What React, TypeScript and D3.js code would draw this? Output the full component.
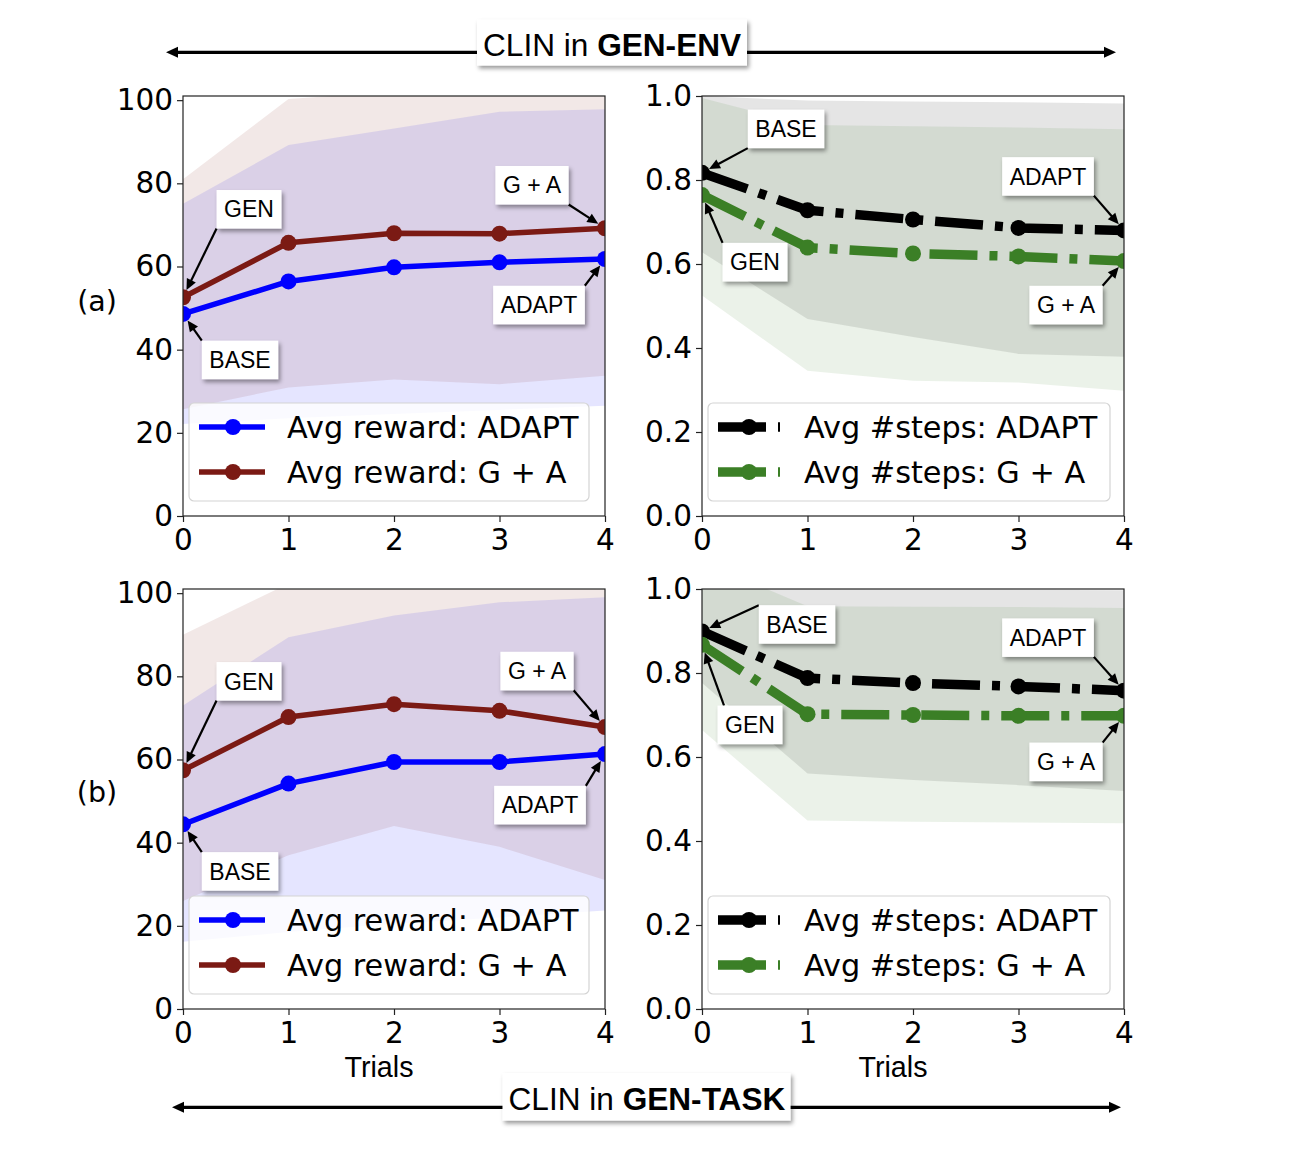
import { useRef, useEffect } from 'react';
import * as d3 from 'd3';

const WIDTH = 1316;
const HEIGHT = 1156;

const COLS = [{ x0: 183, x1: 605 }, { x0: 702, x1: 1124 }];
const ROWS = [{ y0: 96, y1: 516 }, { y0: 589, y1: 1009 }];

const trials = [0, 1, 2, 3, 4];
const rewardTicks = [0, 20, 40, 60, 80, 100];
const stepsTicks = [0, 0.2, 0.4, 0.6, 0.8, 1.0];

// (a) CLIN in GEN-ENV
const envRewardAdapt = [48.6, 56.4, 59.8, 61.0, 61.8];
const envRewardGA = [52.6, 65.7, 68.0, 67.9, 69.2];
const envRewardAdaptLo = [22.1, 23.5, 24.5, 25.5, 26.5];
const envRewardAdaptHi = [75.1, 89.2, 93.2, 97.2, 97.8];
const envRewardGALo = [25.7, 30.9, 32.8, 31.7, 33.7];
const envRewardGAHi = [81.0, 100.3, 102, 103, 103];
const envStepsAdapt = [0.817, 0.728, 0.706, 0.686, 0.68];
const envStepsGA = [0.764, 0.639, 0.625, 0.618, 0.607];
const envStepsAdaptLo = [0.628, 0.469, 0.426, 0.386, 0.379];
const envStepsAdaptHi = [1.0, 0.989, 0.987, 0.985, 0.982];
const envStepsGALo = [0.525, 0.346, 0.322, 0.318, 0.298];
const envStepsGAHi = [0.995, 0.931, 0.928, 0.925, 0.921];

// (b) CLIN in GEN-TASK
const taskRewardAdapt = [44.4, 54.2, 59.4, 59.4, 61.3];
const taskRewardGA = [57.4, 70.2, 73.3, 71.7, 67.8];
const taskRewardAdaptLo = [16.2, 18.5, 20.5, 22.0, 23.7];
const taskRewardAdaptHi = [73.0, 89.4, 94.6, 97.8, 99.0];
const taskRewardGALo = [26.0, 37.0, 44.0, 39.0, 31.0];
const taskRewardGAHi = [90.0, 102.3, 104, 105, 105];
const taskStepsAdapt = [0.899, 0.788, 0.776, 0.768, 0.758];
const taskStepsGA = [0.867, 0.702, 0.7, 0.698, 0.698];
const taskStepsAdaptLo = [0.776, 0.561, 0.545, 0.533, 0.519];
const taskStepsAdaptHi = [1.01, 1.0, 0.999, 0.998, 0.997];
const taskStepsGALo = [0.664, 0.449, 0.446, 0.444, 0.442];
const taskStepsGAHi = [1.065, 0.959, 0.958, 0.957, 0.955];

const rewardLabels = ['Avg reward: ADAPT', 'Avg reward: G + A'];
const stepsLabels = ['Avg #steps: ADAPT', 'Avg #steps: G + A'];

// annotation: label, series (0 adapt / 1 g+a), trial index, text offset, arrow tail anchor on box
type Note = { label: string; s: number; i: number; dx: number; dy: number; rx: number; ry: number };
const envRewardNotes: Note[] = [
  { label: 'GEN', s: 1, i: 0, dx: 66, dy: -88, rx: 0, ry: 1 },
  { label: 'BASE', s: 0, i: 0, dx: 57, dy: 46, rx: 0, ry: 0 },
  { label: 'G + A', s: 1, i: 4, dx: -73, dy: -43, rx: 1, ry: 1 },
  { label: 'ADAPT', s: 0, i: 4, dx: -66, dy: 46, rx: 1, ry: 0 },
];
const envStepsNotes: Note[] = [
  { label: 'BASE', s: 0, i: 0, dx: 84, dy: -44, rx: 0, ry: 1 },
  { label: 'GEN', s: 1, i: 0, dx: 53, dy: 67, rx: 0, ry: 0 },
  { label: 'ADAPT', s: 0, i: 4, dx: -76, dy: -54, rx: 1, ry: 1 },
  { label: 'G + A', s: 1, i: 4, dx: -58, dy: 44, rx: 1, ry: 0 },
];
const taskRewardNotes: Note[] = [
  { label: 'GEN', s: 1, i: 0, dx: 66, dy: -89, rx: 0, ry: 1 },
  { label: 'BASE', s: 0, i: 0, dx: 57, dy: 47, rx: 0, ry: 0 },
  { label: 'G + A', s: 1, i: 4, dx: -68, dy: -56, rx: 1, ry: 1 },
  { label: 'ADAPT', s: 0, i: 4, dx: -65, dy: 51, rx: 1, ry: 0 },
];
const taskStepsNotes: Note[] = [
  { label: 'BASE', s: 0, i: 0, dx: 95, dy: -7, rx: 0, ry: 0 },
  { label: 'GEN', s: 1, i: 0, dx: 48, dy: 80, rx: 0.1, ry: 0 },
  { label: 'ADAPT', s: 0, i: 4, dx: -76, dy: -53, rx: 1, ry: 1 },
  { label: 'G + A', s: 1, i: 4, dx: -58, dy: 46, rx: 1, ry: 0 },
];

const TICK_FONT = '"DejaVu Sans", sans-serif';
const NOTE_FONT = '"Liberation Sans", Arial, sans-serif';
const BLUE = '#0000ff';
const BROWN = '#7b1a14';
const BLACK = '#000000';
const GREEN = '#3b7f26';
const DASHDOT = '48 12 8 12';

interface Series { values: number[]; lo: number[]; hi: number[]; color: string; label: string }
interface Panel {
  row: number; col: number; kind: 'reward' | 'steps';
  series: Series[]; notes: Note[];
}

const panels: Panel[] = [
  {
    row: 0, col: 0, kind: 'reward', notes: envRewardNotes,
    series: [
      { values: envRewardAdapt, lo: envRewardAdaptLo, hi: envRewardAdaptHi, color: BLUE, label: rewardLabels[0] },
      { values: envRewardGA, lo: envRewardGALo, hi: envRewardGAHi, color: BROWN, label: rewardLabels[1] },
    ],
  },
  {
    row: 0, col: 1, kind: 'steps', notes: envStepsNotes,
    series: [
      { values: envStepsAdapt, lo: envStepsAdaptLo, hi: envStepsAdaptHi, color: BLACK, label: stepsLabels[0] },
      { values: envStepsGA, lo: envStepsGALo, hi: envStepsGAHi, color: GREEN, label: stepsLabels[1] },
    ],
  },
  {
    row: 1, col: 0, kind: 'reward', notes: taskRewardNotes,
    series: [
      { values: taskRewardAdapt, lo: taskRewardAdaptLo, hi: taskRewardAdaptHi, color: BLUE, label: rewardLabels[0] },
      { values: taskRewardGA, lo: taskRewardGALo, hi: taskRewardGAHi, color: BROWN, label: rewardLabels[1] },
    ],
  },
  {
    row: 1, col: 1, kind: 'steps', notes: taskStepsNotes,
    series: [
      { values: taskStepsAdapt, lo: taskStepsAdaptLo, hi: taskStepsAdaptHi, color: BLACK, label: stepsLabels[0] },
      { values: taskStepsGA, lo: taskStepsGALo, hi: taskStepsGAHi, color: GREEN, label: stepsLabels[1] },
    ],
  },
];

type Sel = d3.Selection<SVGGElement, unknown, null, undefined>;

function arrowHead(g: Sel, tipX: number, tipY: number, ux: number, uy: number, len: number, half: number) {
  const bx = tipX - ux * len;
  const by = tipY - uy * len;
  g.append('path')
    .attr('d', `M${tipX},${tipY}L${bx - uy * half},${by + ux * half}L${bx + uy * half},${by - ux * half}Z`)
    .attr('fill', '#000');
}

function drawPanel(root: Sel, p: Panel) {
  const { x0, x1 } = COLS[p.col];
  const { y0, y1 } = ROWS[p.row];
  const steps = p.kind === 'steps';
  const x = d3.scaleLinear().domain([0, 4]).range([x0, x1]);
  const y = d3.scaleLinear().domain(steps ? [0, 1] : [0, 101]).range([y1, y0]);
  const g = root.append('g');
  const clipId = `clip-${p.row}-${p.col}`;
  g.append('clipPath').attr('id', clipId)
    .append('rect').attr('x', x0).attr('y', y0).attr('width', x1 - x0).attr('height', y1 - y0);
  const plot = g.append('g').attr('clip-path', `url(#${clipId})`);

  // Bands
  p.series.forEach((s) => {
    const area = d3.area<number>()
      .x((d) => x(d))
      .y0((_, i) => y(s.lo[i]))
      .y1((_, i) => y(s.hi[i]));
    plot.append('path').datum(trials).attr('d', area)
      .attr('fill', s.color).attr('fill-opacity', 0.1);
  });

  // Lines + markers
  p.series.forEach((s) => {
    const line = d3.line<number>().x((d) => x(d)).y((_, i) => y(s.values[i]));
    plot.append('path').datum(trials).attr('d', line)
      .attr('fill', 'none').attr('stroke', s.color)
      .attr('stroke-width', steps ? 9.5 : 5.5)
      .attr('stroke-dasharray', steps ? DASHDOT : null)
      .attr('stroke-linejoin', 'round');
    plot.selectAll(null).data(trials).join('circle')
      .attr('cx', (d) => x(d)).attr('cy', (_, i) => y(s.values[i]))
      .attr('r', 8).attr('fill', s.color);
  });

  // Frame
  g.append('rect').attr('x', x0).attr('y', y0).attr('width', x1 - x0).attr('height', y1 - y0)
    .attr('fill', 'none').attr('stroke', '#222').attr('stroke-width', 1.2);

  // Axes
  const ax = g.append('g').attr('transform', `translate(0,${y1})`)
    .call(d3.axisBottom(x).tickValues(trials).tickSize(6).tickPadding(7).tickFormat(d3.format('d')));
  const ay = g.append('g').attr('transform', `translate(${x0},0)`)
    .call(d3.axisLeft(y).tickValues(steps ? stepsTicks : rewardTicks).tickSize(6).tickPadding(4)
      .tickFormat(steps ? d3.format('.1f') : d3.format('d')));
  [ax, ay].forEach((a) => {
    a.select('.domain').remove();
    a.attr('font-size', 29.5).attr('font-family', TICK_FONT);
    a.selectAll('line').attr('stroke', '#222').attr('stroke-width', 1.2);
    a.selectAll('text').attr('fill', '#000');
  });

  // Legend
  const lx = x0 + 6;
  const ly = y1 - 113;
  const leg = g.append('g');
  leg.append('rect').attr('x', lx).attr('y', ly).attr('width', steps ? 402 : 400).attr('height', 98)
    .attr('rx', 5).attr('fill', '#fff').attr('fill-opacity', 0.8)
    .attr('stroke', '#d4d4d4').attr('stroke-width', 1.2);
  p.series.forEach((s, k) => {
    const cy = y1 - 89 + k * 45;
    leg.append('line')
      .attr('x1', x0 + 16).attr('x2', x0 + (steps ? 78 : 82)).attr('y1', cy).attr('y2', cy)
      .attr('stroke', s.color).attr('stroke-width', steps ? 9.5 : 5.5)
      .attr('stroke-dasharray', steps ? DASHDOT : null);
    leg.append('circle').attr('cx', x0 + (steps ? 47 : 50)).attr('cy', cy).attr('r', 8).attr('fill', s.color);
    leg.append('text').attr('x', x0 + (steps ? 102 : 104)).attr('y', cy + 11)
      .attr('font-family', TICK_FONT).attr('font-size', 30.3).attr('fill', '#000')
      .text(s.label);
  });

  // Annotations
  const notes = g.append('g');
  p.notes.forEach((n) => {
    const s = p.series[n.s];
    const tx = x(trials[n.i]);
    const ty = y(s.values[n.i]);
    const cx = tx + n.dx;
    const cy = ty + n.dy;
    const label = notes.append('text').attr('x', cx).attr('y', cy + 8.2)
      .attr('text-anchor', 'middle').attr('font-family', NOTE_FONT).attr('font-size', 23)
      .attr('fill', '#000').text(n.label);
    const tw = (label.node() as SVGTextElement).getComputedTextLength();
    const bw = tw + 15;
    const bh = 38.5;
    const bx = cx - bw / 2;
    const by = cy - bh / 2;
    // arrow
    const sx = bx + n.rx * bw;
    const sy = by + n.ry * bh;
    const len = Math.hypot(tx - sx, ty - sy);
    const ux = (tx - sx) / len;
    const uy = (ty - sy) / len;
    const hx = tx - ux * 8;
    const hy = ty - uy * 8;
    const arrow = notes.insert('g', () => label.node());
    arrow.append('line').attr('x1', sx).attr('y1', sy)
      .attr('x2', hx - ux * 9).attr('y2', hy - uy * 9)
      .attr('stroke', '#000').attr('stroke-width', 2.2);
    arrowHead(arrow as unknown as Sel, hx, hy, ux, uy, 11, 5);
    notes.insert('rect', () => label.node())
      .attr('x', bx).attr('y', by).attr('width', bw).attr('height', bh)
      .attr('fill', '#fff').attr('filter', 'url(#shadow)');
  });
}

function drawBanner(root: Sel, text: string, bold: string, lineY: number, ax0: number, ax1: number,
  bx: number, by: number, bw: number, bh: number, baseline: number) {
  const g = root.append('g');
  g.append('line').attr('x1', ax0 + 10).attr('x2', ax1 - 10).attr('y1', lineY).attr('y2', lineY)
    .attr('stroke', '#000').attr('stroke-width', 3.2);
  arrowHead(g, ax0, lineY, -1, 0, 12, 5.5);
  arrowHead(g, ax1, lineY, 1, 0, 12, 5.5);
  g.append('rect').attr('x', bx).attr('y', by).attr('width', bw).attr('height', bh)
    .attr('fill', '#fff').attr('filter', 'url(#shadow)');
  const t = g.append('text').attr('x', bx + 6).attr('y', baseline)
    .attr('font-family', NOTE_FONT).attr('font-size', 31.6).attr('fill', '#000');
  t.append('tspan').text(text);
  t.append('tspan').attr('font-weight', 'bold').text(bold);
}

export default function App() {
  const svgRef = useRef<SVGSVGElement>(null);

  useEffect(() => {
    if (!svgRef.current) return;
    const svg = d3.select(svgRef.current);
    svg.selectAll('*').remove();
    const defs = svg.append('defs');
    defs.append('filter').attr('id', 'shadow').attr('x', '-20%').attr('y', '-30%')
      .attr('width', '150%').attr('height', '180%')
      .append('feDropShadow').attr('dx', 2).attr('dy', 3).attr('stdDeviation', 2)
      .attr('flood-color', '#000').attr('flood-opacity', 0.4);
    const root = svg.append('g') as unknown as Sel;

    panels.forEach((p) => drawPanel(root, p));

    // Row labels
    ['(a)', '(b)'].forEach((lab, r) => {
      const mid = (ROWS[r].y0 + ROWS[r].y1) / 2;
      root.append('text').attr('x', 97).attr('y', mid + (r === 0 ? 5 : 3))
        .attr('text-anchor', 'middle').attr('font-family', TICK_FONT).attr('font-size', 28.5)
        .attr('fill', '#000').text(lab);
    });

    // x-axis titles
    [379, 893].forEach((cx) => {
      root.append('text').attr('x', cx).attr('y', 1077).attr('text-anchor', 'middle')
        .attr('font-family', NOTE_FONT).attr('font-size', 30).attr('fill', '#000')
        .attr('textLength', 69).attr('lengthAdjust', 'spacingAndGlyphs')
        .text('Trials');
    });

    drawBanner(root, 'CLIN in ', 'GEN-ENV', 52.3, 166, 1116, 477, 19.5, 270, 46, 55.7);
    drawBanner(root, 'CLIN in ', 'GEN-TASK', 1107.3, 172, 1121, 502.5, 1073, 288, 47.5, 1110);
  }, []);

  return (
    <svg
      ref={svgRef}
      width={WIDTH}
      height={HEIGHT}
      viewBox={`0 0 ${WIDTH} ${HEIGHT}`}
      style={{ position: 'absolute', left: 0, top: 0, background: '#fff' }}
    />
  );
}
